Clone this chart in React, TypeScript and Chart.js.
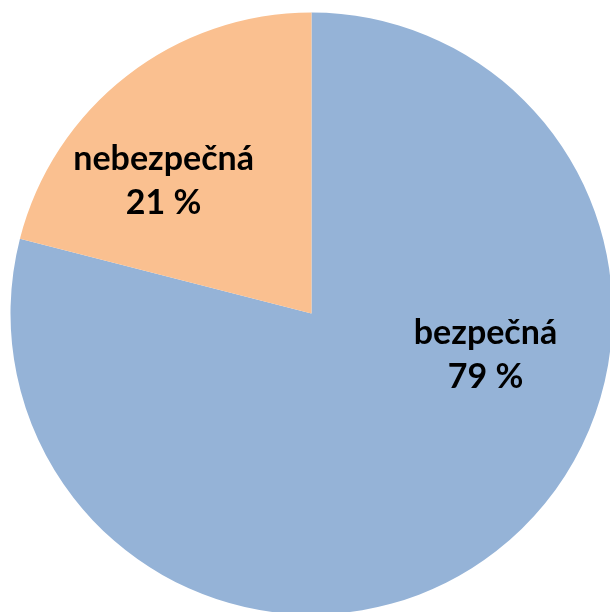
import React, { useEffect, useRef } from "react";
import { Chart, registerables } from "chart.js";

Chart.register(...registerables);

const categories = ["bezpečná", "nebezpečná"];
const values = [79, 21];
const percentLabels = ["79 %", "21 %"];
const colors = ["#95B3D7", "#FAC090"];
// label placement: angle (deg, clockwise from top) and fraction of radius
const labelAngles = [103.3, 311.9];
const labelRadii = [0.594, 0.66];

const labelPlugin = {
  id: "sliceLabels",
  afterDatasetsDraw(chart: any) {
    const meta = chart.getDatasetMeta(0);
    const ctx = chart.ctx;
    ctx.save();
    ctx.fillStyle = "#000";
    ctx.font = "bold 34px Lato";
    ctx.textAlign = "center";
    ctx.textBaseline = "alphabetic";
    meta.data.forEach((arc: any, i: number) => {
      const a = (labelAngles[i] * Math.PI) / 180;
      const r = arc.outerRadius * labelRadii[i];
      const cx = arc.x + Math.sin(a) * r;
      const cy = arc.y - Math.cos(a) * r;
      ctx.fillText(categories[i], cx, cy - 11);
      ctx.fillText(percentLabels[i], cx, cy + 33);
    });
    ctx.restore();
  },
};

export default function App() {
  const ref = useRef<HTMLCanvasElement>(null);
  useEffect(() => {
    if (!ref.current) return;
    const chart = new Chart(ref.current, {
      type: "pie",
      data: {
        labels: categories,
        datasets: [
          {
            data: values,
            backgroundColor: colors,
            borderWidth: 0,
          },
        ],
      },
      options: {
        animation: false,
        responsive: false,
        layout: { padding: { left: 10.5, right: 11.5, top: 12.5, bottom: 12.5 } },
        plugins: { legend: { display: false }, tooltip: { enabled: false } },
      },
      plugins: [labelPlugin],
    });
    return () => chart.destroy();
  }, []);
  return (
    <div style={{ position: "fixed", left: 0, top: 0, width: 610, height: 612, overflow: "hidden", background: "#fff" }}>
      <canvas ref={ref} width={624} height={627} style={{ display: "block", width: 624, height: 627 }} />
    </div>
  );
}
